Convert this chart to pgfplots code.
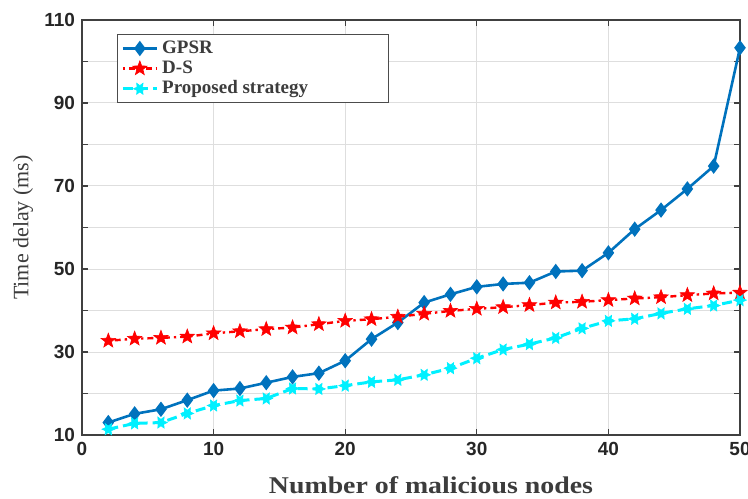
\documentclass[border=0pt]{standalone}
\usepackage{graphicx}
\usepackage{pgfplots}
\pgfplotsset{compat=1.18}
\usepackage{fontspec}
\setmainfont{Liberation Serif}
\newfontfamily\ticksans{Liberation Sans}
\definecolor{gpsr}{RGB}{0,114,189}
\definecolor{dsred}{RGB}{255,0,0}
\definecolor{propc}{RGB}{0,240,255}
\definecolor{txt}{RGB}{60,60,60}
\pgfdeclareplotmark{fstar}{%
  \pgfpathmoveto{\pgfpointpolar{90}{\pgfplotmarksize}}%
  \pgfpathlineto{\pgfpointpolar{126}{0.42\pgfplotmarksize}}%
  \pgfpathlineto{\pgfpointpolar{162}{\pgfplotmarksize}}%
  \pgfpathlineto{\pgfpointpolar{198}{0.42\pgfplotmarksize}}%
  \pgfpathlineto{\pgfpointpolar{234}{\pgfplotmarksize}}%
  \pgfpathlineto{\pgfpointpolar{270}{0.42\pgfplotmarksize}}%
  \pgfpathlineto{\pgfpointpolar{306}{\pgfplotmarksize}}%
  \pgfpathlineto{\pgfpointpolar{342}{0.42\pgfplotmarksize}}%
  \pgfpathlineto{\pgfpointpolar{18}{\pgfplotmarksize}}%
  \pgfpathlineto{\pgfpointpolar{54}{0.42\pgfplotmarksize}}%
  \pgfpathclose\pgfusepathqfillstroke}
\pgfdeclareplotmark{hexa}{%
  \pgfpathmoveto{\pgfpointpolar{0}{\pgfplotmarksize}}%
  \pgfpathlineto{\pgfpointpolar{30}{0.5\pgfplotmarksize}}%
  \pgfpathlineto{\pgfpointpolar{60}{\pgfplotmarksize}}%
  \pgfpathlineto{\pgfpointpolar{90}{0.5\pgfplotmarksize}}%
  \pgfpathlineto{\pgfpointpolar{120}{\pgfplotmarksize}}%
  \pgfpathlineto{\pgfpointpolar{150}{0.5\pgfplotmarksize}}%
  \pgfpathlineto{\pgfpointpolar{180}{\pgfplotmarksize}}%
  \pgfpathlineto{\pgfpointpolar{210}{0.5\pgfplotmarksize}}%
  \pgfpathlineto{\pgfpointpolar{240}{\pgfplotmarksize}}%
  \pgfpathlineto{\pgfpointpolar{270}{0.5\pgfplotmarksize}}%
  \pgfpathlineto{\pgfpointpolar{300}{\pgfplotmarksize}}%
  \pgfpathlineto{\pgfpointpolar{330}{0.5\pgfplotmarksize}}%
  \pgfpathclose\pgfusepathqfillstroke}
\begin{document}
\begin{tikzpicture}
\begin{axis}[
  at={(0,0)}, anchor=south west, scale only axis,
  width=329pt, height=207.5pt,
  xmin=0, xmax=50, ymin=10, ymax=110,
  xtick={0,10,...,50}, ytick={10,20,...,110},
  yticklabels={10,,30,,50,,70,,90,,110},
  grid=major, grid style={black!13, line width=0.5pt},
  axis line style={black!75, line width=0.7pt},
  tick style={black!75, line width=0.6pt},
  major tick length=3pt,
  tick label style={font=\ticksans\bfseries\fontsize{9.5}{11}\selectfont, text=black!85},
  /pgf/number format/assume math mode=true,
  xlabel={\scalebox{1.16}[1]{Number of malicious nodes}},
  ylabel={Time delay (ms)},
  xlabel style={font=\bfseries\fontsize{12}{14}\selectfont, text=txt, at={([xshift=10pt]axis description cs:0.5,0)}, anchor=center, yshift=-25pt},
  ylabel style={font=\fontsize{11}{13}\selectfont, text=txt, at={([xshift=-29.5pt]axis description cs:0,0.5)}, anchor=center},
  legend style={at={(axis description cs:0.053,0.966)}, anchor=north west,
    draw=black!70, line width=0.6pt, inner xsep=2pt, inner ysep=1pt,
    font=\bfseries\fontsize{9.5}{11}\selectfont, text=txt,
    row sep=-1.8pt},
  legend cell align=left,
  legend image post style={line width=1.3pt},
]
\addplot[color=gpsr, line width=1.3pt, mark=diamond*, mark size=2.8pt, mark options={solid, fill=gpsr}] coordinates {
(2,13.0) (4,15.1) (6,16.2) (8,18.4) (10,20.7) (12,21.2) (14,22.6) (16,24.0) (18,24.9) (20,27.9)
(22,33.1) (24,37.1) (26,41.9) (28,43.9) (30,45.7) (32,46.4) (34,46.7) (36,49.4) (38,49.6) (40,53.9)
(42,59.6) (44,64.2) (46,69.3) (48,74.8) (50,103.3)};
\addlegendentry{\makebox[109pt][l]{GPSR}}
\addplot[color=dsred, line width=1.2pt, dash pattern=on 1.2pt off 2pt on 3pt off 2pt, mark=fstar, mark size=3.8pt, mark options={solid, fill=dsred, line width=0.3pt}] coordinates {
(2,32.7) (4,33.2) (6,33.4) (8,33.7) (10,34.5) (12,35.0) (14,35.5) (16,35.9) (18,36.7) (20,37.5)
(22,37.9) (24,38.5) (26,39.2) (28,39.9) (30,40.4) (32,40.8) (34,41.3) (36,41.9) (38,42.1) (40,42.5)
(42,42.9) (44,43.2) (46,43.7) (48,44.1) (50,44.3)};
\addlegendentry{\makebox[109pt][l]{D-S}}
\addplot[color=propc, line width=1.5pt, dash pattern=on 5pt off 2.5pt, mark=hexa, mark size=3.2pt, mark options={solid, fill=propc, line width=0.3pt}] coordinates {
(2,11.4) (4,12.8) (6,13.0) (8,15.2) (10,17.1) (12,18.3) (14,18.8) (16,21.2) (18,21.1) (20,21.9)
(22,22.8) (24,23.3) (26,24.5) (28,26.1) (30,28.5) (32,30.6) (34,31.9) (36,33.4) (38,35.7) (40,37.5)
(42,38.0) (44,39.3) (46,40.4) (48,41.2) (50,42.5)};
\addlegendentry{\makebox[109pt][l]{Proposed strategy}}
\end{axis}
\pgfresetboundingbox
\useasboundingbox (-41pt,-31.5pt) rectangle (333pt,217.5pt);
\end{tikzpicture}
\end{document}
